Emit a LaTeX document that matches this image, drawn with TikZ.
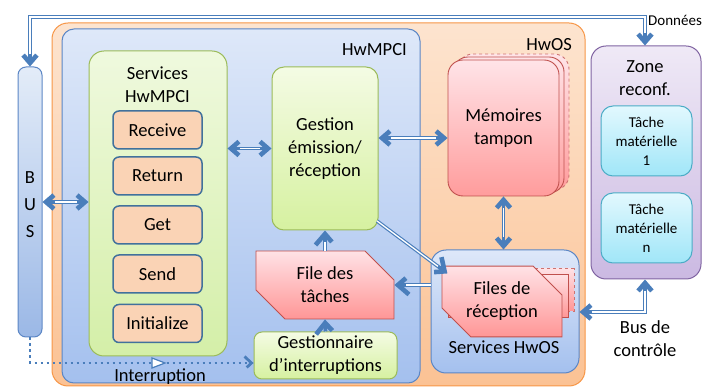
\documentclass[tikz,border=0pt]{standalone}
\usepackage{fontspec}
\setmainfont{Carlito}
\usetikzlibrary{shapes.misc,calc,decorations.markings}
\definecolor{ablue}{HTML}{4A7EBB}
\definecolor{bblue}{HTML}{5B86C5}
\definecolor{oborder}{HTML}{F79646}
\definecolor{gborder}{HTML}{9BBB59}
\definecolor{rborder}{HTML}{C0504D}
\definecolor{pborder}{HTML}{8064A2}
\definecolor{cborder}{HTML}{4BACC6}
\definecolor{kborder}{HTML}{41719C}
\newcommand{\arrtwo}[1]{\draw[blueline, shorten <=4pt, shorten >=4pt, headstart, headend] #1; \draw[whiteline, shorten <=12pt, shorten >=12pt] #1;}
\newcommand{\arrone}[1]{\draw[blueline, shorten >=4pt, headend] #1; \draw[whiteline, shorten >=12pt] #1;}
\begin{document}
\begin{tikzpicture}[x=1pt,y=-1pt,
  base/.style={inner sep=0pt, align=center, font=\fontsize{18.5}{23}\selectfont},
  smalltxt/.style={inner sep=0pt, align=center, font=\fontsize{15}{19}\selectfont},
  boxorange/.style={base, draw=oborder, line width=1pt, rounded corners=16pt, top color={rgb,255:red,253;green,228;blue,207}, bottom color={rgb,255:red,251;green,194;blue,148}},
  boxblue/.style={base, draw=bblue, line width=1pt, rounded corners=12pt, top color={rgb,255:red,222;green,232;blue,249}, bottom color={rgb,255:red,164;green,192;blue,238}},
  boxgreen/.style={base, draw=gborder, line width=1pt, rounded corners=15pt, top color={rgb,255:red,239;green,249;blue,222}, bottom color={rgb,255:red,212;green,239;blue,168}},
  boxgreenb/.style={base, draw=gborder, line width=1pt, rounded corners=12pt, top color={rgb,255:red,244;green,251;blue,228}, bottom color={rgb,255:red,214;green,241;blue,160}},
  svc/.style={base, draw=kborder, line width=1.5pt, rounded corners=6pt, fill={rgb,255:red,250;green,211;blue,181}, minimum width=89pt, minimum height=38pt},
  pinkbox/.style={base, draw=rborder, line width=0.9pt, rounded corners=15pt, top color={rgb,255:red,255;green,228;blue,232}, bottom color={rgb,255:red,255;green,156;blue,156}, minimum width=111pt, minimum height=136pt},
  snip/.style={base, chamfered rectangle, chamfered rectangle corners={north east,south west}, chamfered rectangle xsep=13pt, chamfered rectangle ysep=16pt, draw=rborder, line width=0.9pt, top color={rgb,255:red,255;green,226;blue,230}, bottom color={rgb,255:red,255;green,150;blue,150}},
  purplebox/.style={base, draw=pborder, line width=1pt, rounded corners=15pt, top color={rgb,255:red,239;green,233;blue,246}, bottom color={rgb,255:red,203;green,185;blue,226}},
  cyanbox/.style={smalltxt, draw=cborder, line width=1pt, rounded corners=12pt, top color={rgb,255:red,226;green,248;blue,254}, bottom color={rgb,255:red,160;green,230;blue,248}, minimum width=91pt, minimum height=70pt},
  chev/.style={draw=ablue, solid, line width=4.6pt, line join=miter, line cap=butt},
  headend/.style={postaction={decorate, decoration={markings, mark=at position 1 with {\draw[chev] (-14.5pt,9.5pt) -- (-3.5pt,0pt) -- (-14.5pt,-9.5pt);}}}},
  headstart/.style={postaction={decorate, decoration={markings, mark=at position 0 with {\draw[chev] (14.5pt,9.5pt) -- (3.5pt,0pt) -- (14.5pt,-9.5pt);}}}},
  smallhead/.style={postaction={decorate, decoration={markings, mark=at position 1 with {\draw[chev, line width=2.8pt] (-9pt,6.5pt) -- (-2pt,0pt) -- (-9pt,-6.5pt);}}}},
  blueline/.style={draw=ablue, line width=3.6pt},
  whiteline/.style={draw=white, line width=1.3pt},
  dotline/.style={draw=ablue, line width=2.6pt, dash pattern=on 2.6pt off 3.4pt}
]
\useasboundingbox (0,0) rectangle (705,387);

% outer containers
\node[boxorange, minimum width=533pt, minimum height=363pt] (hwos) at (318.5,204.5) {};
\node[boxblue, minimum width=358pt, minimum height=354pt] (hwmpci) at (241,206) {};
\node[base, anchor=east] (hwmpcilbl) at (407,50) {HwMPCI};
\node[base, anchor=east] (hwoslbl) at (572,45) {HwOS};

% BUS
\node[base, draw=bblue, line width=1pt, rounded corners=8pt, top color={rgb,255:red,227;green,236;blue,248}, bottom color={rgb,255:red,155;green,184;blue,230}, minimum width=24pt, minimum height=270pt] (bus) at (30,202) {};
\node[base] (busB) at (30,178) {B};
\node[base] (busU) at (30,205) {U};
\node[base] (busS) at (30,232) {S};

% Services HwMPCI
\node[boxgreen, minimum width=138pt, minimum height=305pt] (services) at (158,203.5) {};
\node[base] (serviceslbl) at (157.5,85) {Services\\HwMPCI};
\node[svc] (receive) at (157.5,130) {Receive};
\node[svc] (return) at (157.5,176) {Return};
\node[svc] (get) at (157.5,225) {Get};
\node[svc] (send) at (157.5,274) {Send};
\node[svc] (init) at (157.5,323.5) {Initialize};

% Gestion
\node[boxgreenb, minimum width=106pt, minimum height=163pt] (gestion) at (325,148.5) {Gestion\\émission/\\réception};

% File des taches
\node[snip, minimum width=138pt, minimum height=44pt] (taches) at (325,285) {File des\\tâches};

% Gestionnaire
\node[boxgreenb, rounded corners=8pt, minimum width=143pt, minimum height=47pt] (gint) at (325.5,355.5) {Gestionnaire\\d’interruptions};

% Memoires tampon stack
\node[pinkbox, dashed, draw=rborder!80] (mem3) at (513.5,122) {};
\node[pinkbox] (mem2) at (508.5,125) {};
\node[pinkbox] (mem) at (503.5,128) {Mémoires\\tampon};

% Services HwOS
\node[boxblue, rounded corners=15pt, minimum width=148pt, minimum height=123pt] (shos) at (505,311.5) {};
\node[base] (shoslbl) at (504,347) {Services HwOS};
\node[snip, minimum width=120pt, minimum height=43pt, dashed, draw=rborder!80] (frec3) at (514,289.5) {};
\node[snip, minimum width=120pt, minimum height=43pt] (frec2) at (508,295.5) {};
\node[snip, minimum width=120pt, minimum height=43pt] (frec) at (502,301.5) {Files de\\réception};

% Zone reconf
\node[purplebox, minimum width=110pt, minimum height=233pt] (zone) at (646,162.5) {};
\node[base] (zonelbl) at (645,78) {Zone\\reconf.};
\node[cyanbox] (t1) at (646.5,141) {Tâche\\matérielle\\1};
\node[cyanbox] (tn) at (646.5,228) {Tâche\\matérielle\\n};

% arrows
\arrtwo{(bus.east) -- (bus.east -| services.west)}
\arrtwo{(gestion.west -| services.east) -- (gestion.west)}
\arrtwo{(gestion.east |- 0,138) -- (mem.west |- 0,138)}
\arrtwo{(mem.south) -- (mem.south |- shos.north)}
\coordinate (diagstart) at (377,221);
\arrone{(diagstart) -- (frec2.north west)}
\arrone{(shos.west |- taches.east) -- (taches.east)}
\arrone{(gint.north) -- (taches.south)}
\arrone{(taches.north) -- (gestion.south)}

% Donnees
\coordinate (dcorner) at (645,17);
\arrtwo{(bus.north) |- (dcorner) -- (dcorner |- zone.north)}
\node[smalltxt, anchor=west] (donnees) at (648,20) {Données};

% Bus de controle
\coordinate (bccorner) at (645,312);
\arrtwo{(shos.east |- bccorner) -- (bccorner) -- (bccorner |- zone.south)}
\node[base] (buscl) at (645,338.5) {Bus de\\contrôle};

% Interruption
\coordinate (icorner) at (30,363);
\draw[dotline, shorten >=3pt, smallhead] (bus.south) -- (icorner) -- (icorner -| gint.west);
\draw[draw=ablue, fill=white, line width=1.2pt] (152,358) -- (165,363) -- (152,368) -- cycle;
\node[base] (interr) at (160,377) {Interruption};
\end{tikzpicture}
\end{document}
